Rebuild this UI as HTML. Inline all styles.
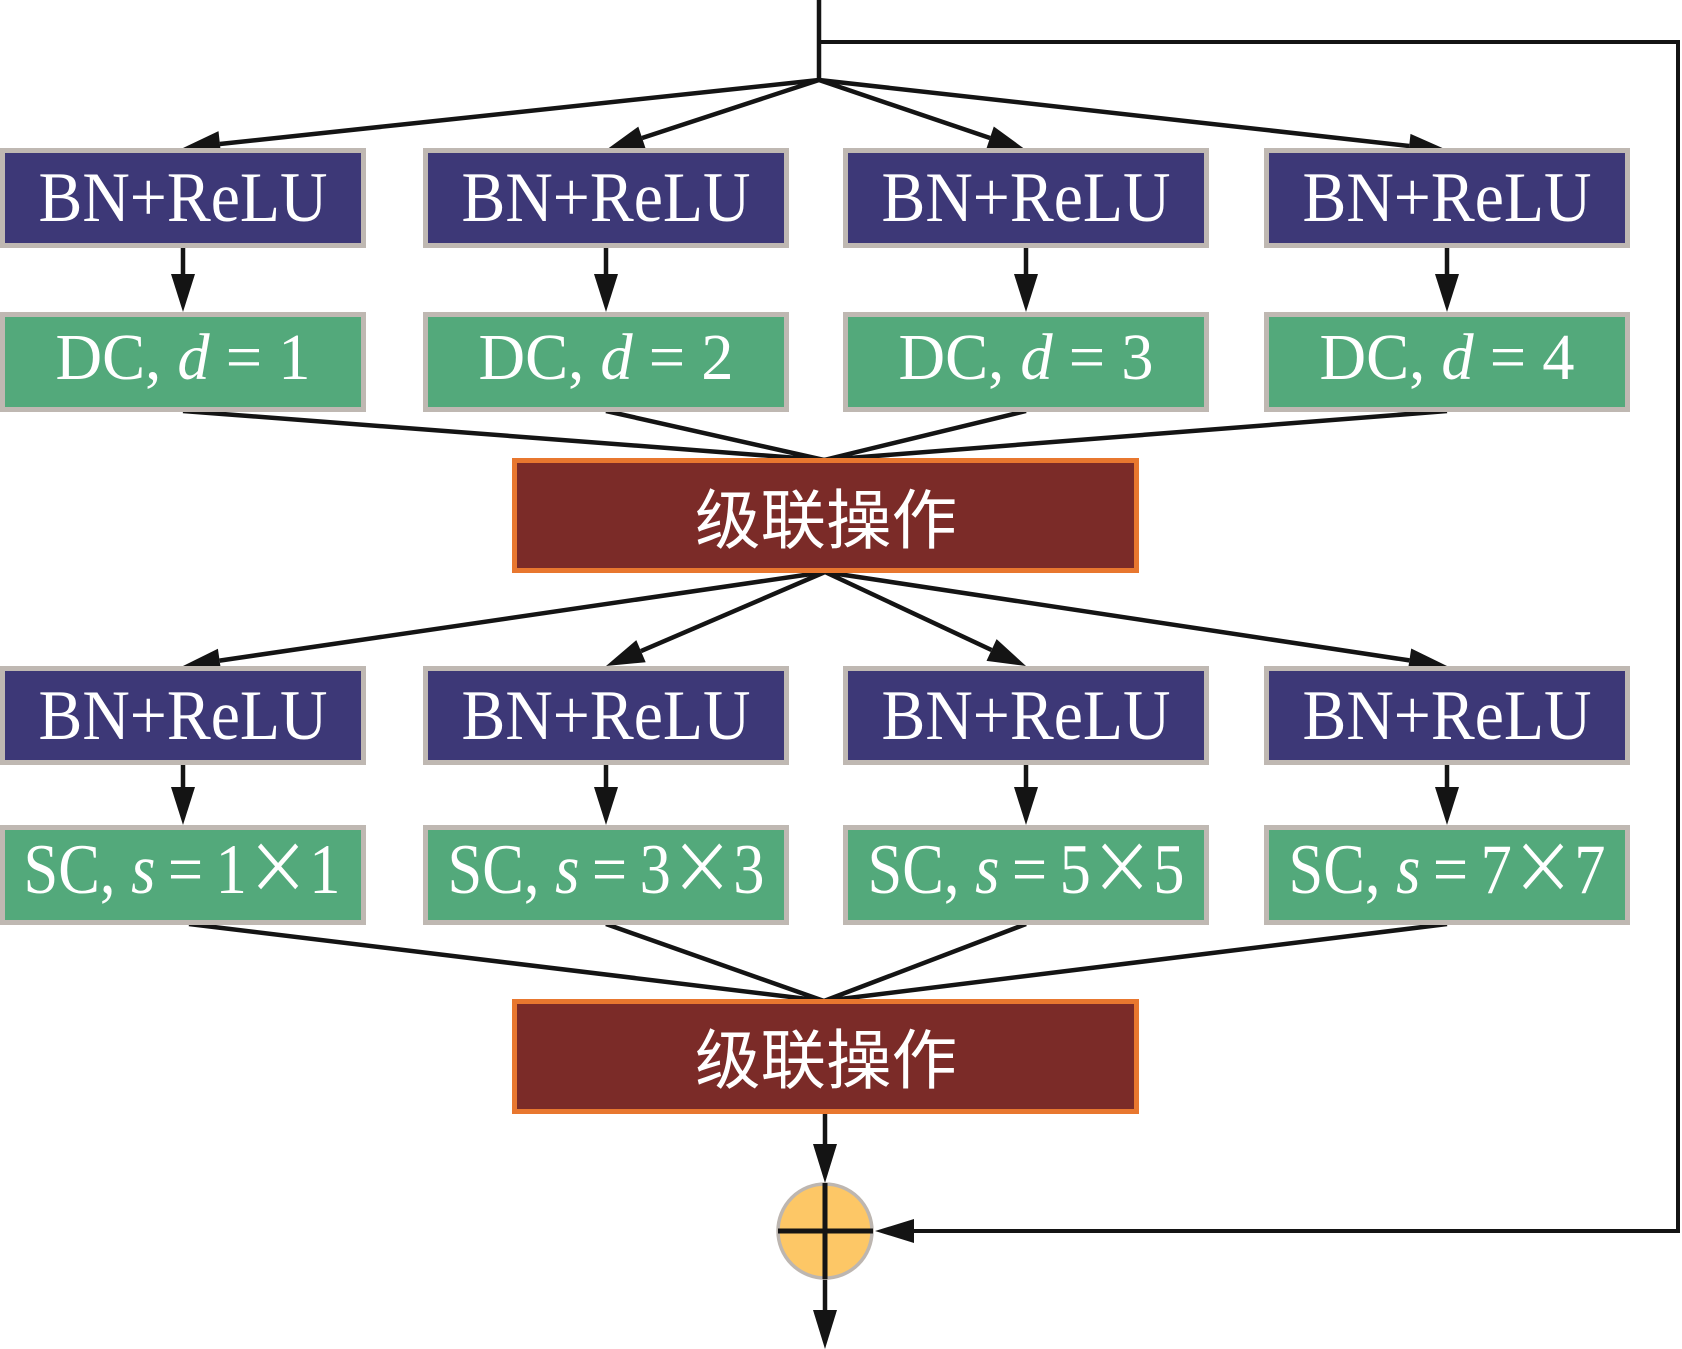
<!DOCTYPE html>
<html>
<head>
<meta charset="utf-8">
<style>
  html, body { margin: 0; padding: 0; background: #ffffff; }
  body { width: 1682px; height: 1349px; overflow: hidden; }
  svg { display: block; }
  .lat { font-family: "Liberation Serif", "Times New Roman", serif; fill: #ffffff; }
  .cjk { font-family: "Noto Sans CJK SC", "WenQuanYi Zen Hei", sans-serif; fill: #ffffff; }
</style>
</head>
<body>
<svg width="1682" height="1349" viewBox="0 0 1682 1349" xmlns="http://www.w3.org/2000/svg">
  <!-- ===== connectors ===== -->
  <g stroke="#141414" stroke-width="4.5" fill="none" stroke-linecap="butt">
    <line x1="819" y1="0" x2="819" y2="81"/>
    <polyline points="819,42 1678,42 1678,1231 912,1231" stroke-width="4"/>
    <line x1="819" y1="80" x2="219.8" y2="144"/>
    <line x1="819" y1="80" x2="642.1" y2="138"/>
    <line x1="819" y1="80" x2="990.0" y2="138"/>
    <line x1="819" y1="80" x2="1409.2" y2="146"/>
    <line x1="183" y1="248" x2="183" y2="276"/>
    <line x1="606" y1="248" x2="606" y2="276"/>
    <line x1="1026" y1="248" x2="1026" y2="276"/>
    <line x1="1447" y1="248" x2="1447" y2="276"/>
    <line x1="183" y1="411" x2="824" y2="460"/>
    <line x1="606" y1="411" x2="824" y2="460"/>
    <line x1="1026" y1="411" x2="824" y2="460"/>
    <line x1="1447" y1="411" x2="824" y2="460"/>
    <line x1="825" y1="572" x2="219.6" y2="660.6"/>
    <line x1="825" y1="572" x2="641.0" y2="651.1"/>
    <line x1="825" y1="572" x2="991.5" y2="650.0"/>
    <line x1="825" y1="572" x2="1409.4" y2="660.4"/>
    <line x1="183" y1="765" x2="183" y2="789"/>
    <line x1="606" y1="765" x2="606" y2="789"/>
    <line x1="1026" y1="765" x2="1026" y2="789"/>
    <line x1="1447" y1="765" x2="1447" y2="789"/>
    <line x1="189" y1="924" x2="824" y2="1001"/>
    <line x1="606" y1="924" x2="824" y2="1001"/>
    <line x1="1026" y1="924" x2="824" y2="1001"/>
    <line x1="1447" y1="924" x2="824" y2="1001"/>
    <line x1="825" y1="1114" x2="825" y2="1146"/>
    <line x1="825" y1="1279" x2="825" y2="1312"/>
  </g>

  <!-- ===== arrowheads ===== -->
  <g fill="#141414">
    <polygon points="183,148 218.5,131.1 221.1,154.9"/>
    <polygon points="606,150 638.3,126.6 645.9,149.4"/>
    <polygon points="1026,150 986.2,149.3 993.8,126.5"/>
    <polygon points="1447,150 1407.9,157.7 1410.5,133.9"/>

    <polygon points="171,274 195,274 183,312"/>
    <polygon points="594,274 618,274 606,312"/>
    <polygon points="1014,274 1038,274 1026,312"/>
    <polygon points="1435,274 1459,274 1447,312"/>

    <polygon points="183,666 217.9,648.7 221.3,672.4"/>
    <polygon points="606,666 636.3,640.1 645.7,662.2"/>
    <polygon points="1026,666 986.5,660.9 996.6,639.1"/>
    <polygon points="1447,666 1407.6,672.3 1411.2,648.5"/>

    <polygon points="171,787 195,787 183,825"/>
    <polygon points="594,787 618,787 606,825"/>
    <polygon points="1014,787 1038,787 1026,825"/>
    <polygon points="1435,787 1459,787 1447,825"/>

    <polygon points="813,1144 837,1144 825,1183"/>
    <polygon points="813,1310 837,1310 825,1349"/>
    <polygon points="914,1219 914,1243 875,1231"/>
  </g>

  <!-- ===== BN+ReLU row 1 ===== -->
  <g>
    <rect x="0" y="148" width="366" height="100" fill="#bfb8b2"/>
    <rect x="5" y="153" width="356" height="90" fill="#3d3877"/>
    <rect x="423" y="148" width="366" height="100" fill="#bfb8b2"/>
    <rect x="428" y="153" width="356" height="90" fill="#3d3877"/>
    <rect x="843" y="148" width="366" height="100" fill="#bfb8b2"/>
    <rect x="848" y="153" width="356" height="90" fill="#3d3877"/>
    <rect x="1264" y="148" width="366" height="100" fill="#bfb8b2"/>
    <rect x="1269" y="153" width="356" height="90" fill="#3d3877"/>
  </g>
  <g class="lat" font-size="71" text-anchor="middle">
    <text x="183" y="221" textLength="289" lengthAdjust="spacingAndGlyphs">BN+ReLU</text>
    <text x="606" y="221" textLength="289" lengthAdjust="spacingAndGlyphs">BN+ReLU</text>
    <text x="1026" y="221" textLength="289" lengthAdjust="spacingAndGlyphs">BN+ReLU</text>
    <text x="1447" y="221" textLength="289" lengthAdjust="spacingAndGlyphs">BN+ReLU</text>
  </g>

  <!-- ===== DC row ===== -->
  <g>
    <rect x="0" y="312" width="366" height="100" fill="#bfb8b2"/>
    <rect x="5" y="317" width="356" height="90" fill="#53a97b"/>
    <rect x="423" y="312" width="366" height="100" fill="#bfb8b2"/>
    <rect x="428" y="317" width="356" height="90" fill="#53a97b"/>
    <rect x="843" y="312" width="366" height="100" fill="#bfb8b2"/>
    <rect x="848" y="317" width="356" height="90" fill="#53a97b"/>
    <rect x="1264" y="312" width="366" height="100" fill="#bfb8b2"/>
    <rect x="1269" y="317" width="356" height="90" fill="#53a97b"/>
  </g>
  <g class="lat" font-size="66" text-anchor="middle">
    <text x="183" y="379" textLength="255" lengthAdjust="spacingAndGlyphs">DC, <tspan font-style="italic">d</tspan> = 1</text>
    <text x="606" y="379" textLength="255" lengthAdjust="spacingAndGlyphs">DC, <tspan font-style="italic">d</tspan> = 2</text>
    <text x="1026" y="379" textLength="255" lengthAdjust="spacingAndGlyphs">DC, <tspan font-style="italic">d</tspan> = 3</text>
    <text x="1447" y="379" textLength="255" lengthAdjust="spacingAndGlyphs">DC, <tspan font-style="italic">d</tspan> = 4</text>
  </g>

  <!-- ===== concat 1 ===== -->
  <rect x="512" y="458" width="627" height="115" fill="#e8772f"/>
  <rect x="517" y="463" width="617" height="105" fill="#7b2b28"/>
  <text class="cjk" x="826" y="543" font-size="65" text-anchor="middle" textLength="262" lengthAdjust="spacingAndGlyphs">级联操作</text>

  <!-- ===== BN+ReLU row 2 ===== -->
  <g>
    <rect x="0" y="666" width="366" height="99" fill="#bfb8b2"/>
    <rect x="5" y="671" width="356" height="89" fill="#3d3877"/>
    <rect x="423" y="666" width="366" height="99" fill="#bfb8b2"/>
    <rect x="428" y="671" width="356" height="89" fill="#3d3877"/>
    <rect x="843" y="666" width="366" height="99" fill="#bfb8b2"/>
    <rect x="848" y="671" width="356" height="89" fill="#3d3877"/>
    <rect x="1264" y="666" width="366" height="99" fill="#bfb8b2"/>
    <rect x="1269" y="671" width="356" height="89" fill="#3d3877"/>
  </g>
  <g class="lat" font-size="71" text-anchor="middle">
    <text x="183" y="739" textLength="289" lengthAdjust="spacingAndGlyphs">BN+ReLU</text>
    <text x="606" y="739" textLength="289" lengthAdjust="spacingAndGlyphs">BN+ReLU</text>
    <text x="1026" y="739" textLength="289" lengthAdjust="spacingAndGlyphs">BN+ReLU</text>
    <text x="1447" y="739" textLength="289" lengthAdjust="spacingAndGlyphs">BN+ReLU</text>
  </g>

  <!-- ===== SC row ===== -->
  <g>
    <rect x="0" y="825" width="366" height="100" fill="#bfb8b2"/>
    <rect x="5" y="830" width="356" height="90" fill="#53a97b"/>
    <rect x="423" y="825" width="366" height="100" fill="#bfb8b2"/>
    <rect x="428" y="830" width="356" height="90" fill="#53a97b"/>
    <rect x="843" y="825" width="366" height="100" fill="#bfb8b2"/>
    <rect x="848" y="830" width="356" height="90" fill="#53a97b"/>
    <rect x="1264" y="825" width="366" height="100" fill="#bfb8b2"/>
    <rect x="1269" y="830" width="356" height="90" fill="#53a97b"/>
  </g>
  <g class="lat" font-size="71" text-anchor="middle">
    <text x="182" y="893" textLength="317" lengthAdjust="spacingAndGlyphs">SC, <tspan font-style="italic">s</tspan>&#8201;=&#8201;1<tspan font-family="Noto Sans CJK SC, sans-serif">×</tspan>1</text>
    <text x="606" y="893" textLength="317" lengthAdjust="spacingAndGlyphs">SC, <tspan font-style="italic">s</tspan>&#8201;=&#8201;3<tspan font-family="Noto Sans CJK SC, sans-serif">×</tspan>3</text>
    <text x="1026" y="893" textLength="317" lengthAdjust="spacingAndGlyphs">SC, <tspan font-style="italic">s</tspan>&#8201;=&#8201;5<tspan font-family="Noto Sans CJK SC, sans-serif">×</tspan>5</text>
    <text x="1447" y="893" textLength="317" lengthAdjust="spacingAndGlyphs">SC, <tspan font-style="italic">s</tspan>&#8201;=&#8201;7<tspan font-family="Noto Sans CJK SC, sans-serif">×</tspan>7</text>
  </g>

  <!-- ===== concat 2 ===== -->
  <rect x="512" y="999" width="627" height="115" fill="#e8772f"/>
  <rect x="517" y="1004" width="617" height="105" fill="#7b2b28"/>
  <text class="cjk" x="826" y="1083" font-size="65" text-anchor="middle" textLength="262" lengthAdjust="spacingAndGlyphs">级联操作</text>

  <!-- ===== sum node ===== -->
  <circle cx="825" cy="1231" r="47" fill="#fdc766" stroke="#bdb6b0" stroke-width="3.5"/>
  <g stroke="#141414" stroke-width="5">
    <line x1="778" y1="1231" x2="873" y2="1231"/>
    <line x1="825" y1="1183" x2="825" y2="1279"/>
  </g>
</svg>
</body>
</html>
